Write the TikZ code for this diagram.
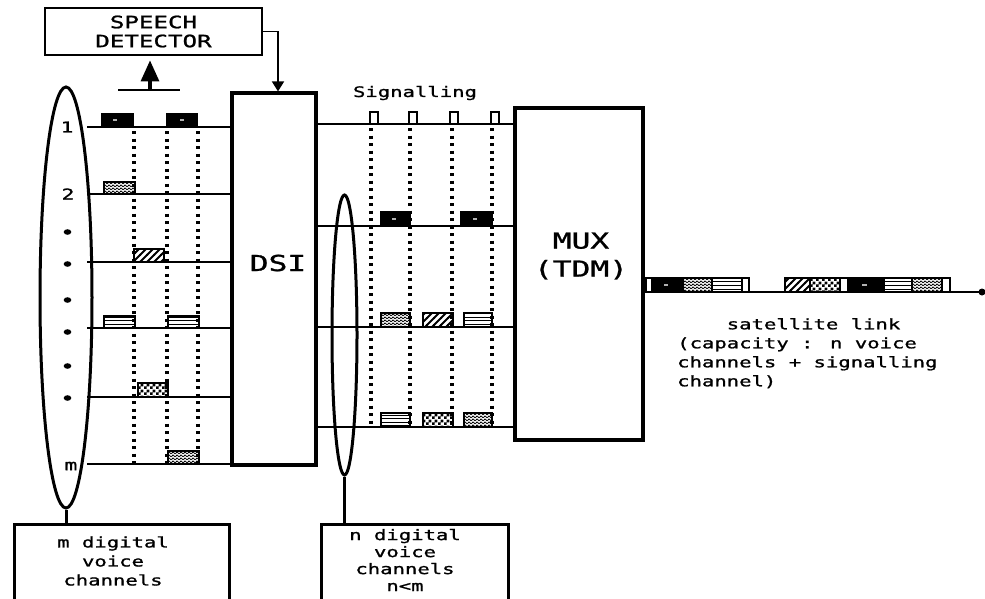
\documentclass[tikz,border=0pt]{standalone}
\usepackage{fontspec}
\usetikzlibrary{shapes.geometric,arrows.meta,patterns}
\newfontfamily\lbl[FakeStretch=1.42,FakeBold=1.2]{DejaVu Sans Mono}

\pgfdeclarepatternformonly{mywaves}{\pgfpoint{0pt}{-0.5pt}}{\pgfpoint{4pt}{3pt}}{\pgfpoint{4pt}{3pt}}{%
  \pgfsetlinewidth{0.8pt}%
  \pgfpathmoveto{\pgfpoint{0pt}{1pt}}%
  \pgfpathlineto{\pgfpoint{1pt}{2pt}}%
  \pgfpathlineto{\pgfpoint{3pt}{0.3pt}}%
  \pgfpathlineto{\pgfpoint{4pt}{1pt}}%
  \pgfusepath{stroke}}
\pgfdeclarepatternformonly{mychecker}{\pgfpointorigin}{\pgfpoint{6pt}{6pt}}{\pgfpoint{6pt}{6pt}}{%
  \pgfpathrectangle{\pgfpointorigin}{\pgfpoint{3pt}{3pt}}%
  \pgfpathrectangle{\pgfpoint{3pt}{3pt}}{\pgfpoint{3pt}{3pt}}%
  \pgfusepath{fill}}
\pgfdeclarepatternformonly{mydiag}{\pgfpoint{-1pt}{-1pt}}{\pgfpoint{8pt}{8pt}}{\pgfpoint{7pt}{7pt}}{%
  \pgfsetlinewidth{1.9pt}%
  \pgfpathmoveto{\pgfpoint{-0.5pt}{-0.5pt}}%
  \pgfpathlineto{\pgfpoint{7.5pt}{7.5pt}}%
  \pgfusepath{stroke}}
\pgfdeclarepatternformonly{myhl}{\pgfpoint{0pt}{-0.5pt}}{\pgfpoint{3pt}{3.5pt}}{\pgfpoint{3pt}{3.5pt}}{%
  \pgfsetlinewidth{1pt}%
  \pgfpathmoveto{\pgfpoint{0pt}{1pt}}%
  \pgfpathlineto{\pgfpoint{3pt}{1pt}}%
  \pgfusepath{stroke}}

\begin{document}
\begin{tikzpicture}[x=1pt,y=-1pt,
  bigbox/.style={draw, line width=3.2pt, inner sep=0pt},
  medbox/.style={draw, line width=2.8pt, inner sep=0pt},
  lbltxt/.style={font=\lbl\fontsize{14.5}{19}\selectfont, inner sep=0pt},
  chan/.style={line width=1.8pt},
  dotv/.style={line width=3.4pt, dash pattern=on 3pt off 4.5pt},
  oval/.style={draw, ellipse, line width=3pt, inner sep=0pt},
  blkblack/.style={fill=black, draw=black, line width=1.2pt},
  blkwave/.style={pattern=mywaves, draw=black, line width=1.2pt},
  blkdiag/.style={pattern=mydiag, draw=black, line width=1.2pt},
  blkhl/.style={pattern=myhl, draw=black, line width=1.2pt},
  blkcheck/.style={pattern=mychecker, draw=black, line width=1.2pt},
  blkmark/.style={fill=white, draw=black, line width=1.3pt},
  spot/.style={fill=gray!60}
]
\useasboundingbox (0,0) rectangle (985,598);
\fill[white] (0,0) rectangle (985,598);

% main boxes
\node[medbox, minimum width=217pt, minimum height=47pt, align=center,
  font=\lbl\fontsize{17}{19}\selectfont] (sd) at (153.5,31.5) {SPEECH\\DETECTOR};
\node[bigbox, minimum width=84pt, minimum height=372pt] (dsi) at (274,279) {};
\node[lbltxt, font=\lbl\fontsize{22}{26}\selectfont] (dsit) at (278,263) {DSI};
\node[bigbox, minimum width=128pt, minimum height=332pt] (mux) at (579,274) {};
\node[lbltxt, align=center, font=\lbl\fontsize{22}{28}\selectfont] (muxt) at (581,256) {MUX\\(TDM)};

% bottom boxes
\node[medbox, minimum width=215pt, minimum height=80pt, anchor=north west] (mbox) at (13,523) {};
\node[lbltxt, align=center, font=\lbl\fontsize{14.5}{19}\selectfont] (mtxt) at (113,561) {m digital\\voice\\channels};
\node[medbox, minimum width=187pt, minimum height=80pt, anchor=north west] (nbox) at (320,523) {};
\node[lbltxt, align=center, font=\lbl\fontsize{14.5}{17}\selectfont] (ntxt) at (405,560) {n digital\\voice\\channels\\n<m};

% ellipses
\node[oval, minimum width=52pt, minimum height=421pt] (e1) at (66,297.5) {};
\node[oval, minimum width=25pt, minimum height=280pt] (e2) at (344.5,335) {};
\draw[line width=3pt] (e1.south) -- (e1.south |- mbox.north);
\draw[line width=3pt] (e2.south) -- (e2.south |- nbox.north);

% speech detector arrows
\draw[line width=1.8pt, -{Triangle[width=12pt,length=10pt]}] (sd.east) -| ([xshift=4pt]dsi.north);
\coordinate (up) at (150,90);
\draw[line width=1.8pt] (118,90) -- (180,90);
\draw[line width=3.2pt, -{Triangle[width=18pt,length=21pt]}, shorten >=4pt] (up) -- (up |- sd.south);

% left channel lines
\foreach \y/\n in {127/c1,194/c2,262/c3,328/c4,397/c5,464/cm}{
  \coordinate (\n) at (87,\y);
  \draw[chan] (\n) -- (\n -| dsi.west);
}
\node[lbltxt, font=\lbl\fontsize{15}{16}\selectfont] (l1) at (67,127) {1};
\node[lbltxt, font=\lbl\fontsize{15}{16}\selectfont] (l2) at (68,194) {2};
\node[lbltxt, font=\lbl\fontsize{15}{16}\selectfont] (lm) at (71,466) {m};
\foreach \y [count=\i] in {232,264,300,332,366,398}{
  \fill (67.5,\y) ellipse (3.8pt and 2.8pt);
}
% left dotted verticals
\foreach \x in {134,167,198}{
  \draw[dotv] (\x,131) -- (\x,464);
}
% left blocks
\draw[blkblack] (102,114) rectangle (133,127); \fill[spot] (113,119) rectangle (117,121);
\draw[blkblack] (167,114) rectangle (197,127); \fill[spot] (180,119) rectangle (184,121);
\draw[blkwave] (104,182) rectangle (135,194);
\draw[blkdiag] (134,249) rectangle (164,262);
\draw[blkhl] (104,316) rectangle (135,328);
\draw[blkhl] (168,316) rectangle (199,328);
\draw[blkcheck] (138,383) rectangle (168,397);
\draw[blkwave] (168,451) rectangle (199,464);

% right channel lines
\foreach \y/\n in {124/s0,226/r1,327/r2,427/r3}{
  \coordinate (\n) at (316,\y);
  \draw[chan] (\n) -- (\n -| mux.west);
}
\node[lbltxt] (sig) at (415,93) {Signalling};
\foreach \x in {371,410,452,492}{
  \draw[dotv] (\x,128) -- (\x,427);
}
\foreach \x in {370,409,450,491}{
  \draw[blkmark] (\x,112) rectangle ++(8,12);
}
% right blocks
\draw[blkblack] (381,212) rectangle (410,226); \fill[spot] (392,218) rectangle (396,220);
\draw[blkblack] (461,212) rectangle (492,226); \fill[spot] (473,218) rectangle (477,220);
\draw[blkwave] (381,313) rectangle (410,327);
\draw[blkdiag] (423,313) rectangle (453,327);
\draw[blkhl] (464,313) rectangle (492,327);
\draw[blkhl] (381,413) rectangle (410,427);
\draw[blkcheck] (423,413) rectangle (453,427);
\draw[blkwave] (464,413) rectangle (492,427);

% satellite link
\coordinate (satend) at (982,292);
\draw[chan] (mux.east |- satend) -- (satend);
\fill (satend) circle (3.5pt);
\draw[blkmark] (646,278) rectangle (652,292);
\draw[blkblack] (652,278) rectangle (683,292); \fill[spot] (664,284) rectangle (668,286);
\draw[blkwave] (683,278) rectangle (712,292);
\draw[blkhl] (712,278) rectangle (742,292);
\draw[blkmark] (742,278) rectangle (749,292);
\draw[blkdiag] (785,278) rectangle (810,292);
\draw[blkcheck] (810,278) rectangle (840,292);
\draw[blkmark] (840,278) rectangle (848,292);
\draw[blkblack] (848,278) rectangle (884,292); \fill[spot] (862,284) rectangle (867,286);
\draw[blkhl] (884,278) rectangle (912,292);
\draw[blkwave] (912,278) rectangle (942,292);
\draw[blkmark] (942,278) rectangle (950,292);

\node[lbltxt, align=left, anchor=north west] (sattxt) at (677,318)
  {\phantom{xxxx}satellite link\\(capacity : n voice\\channels + signalling\\channel)};
\end{tikzpicture}
\end{document}
